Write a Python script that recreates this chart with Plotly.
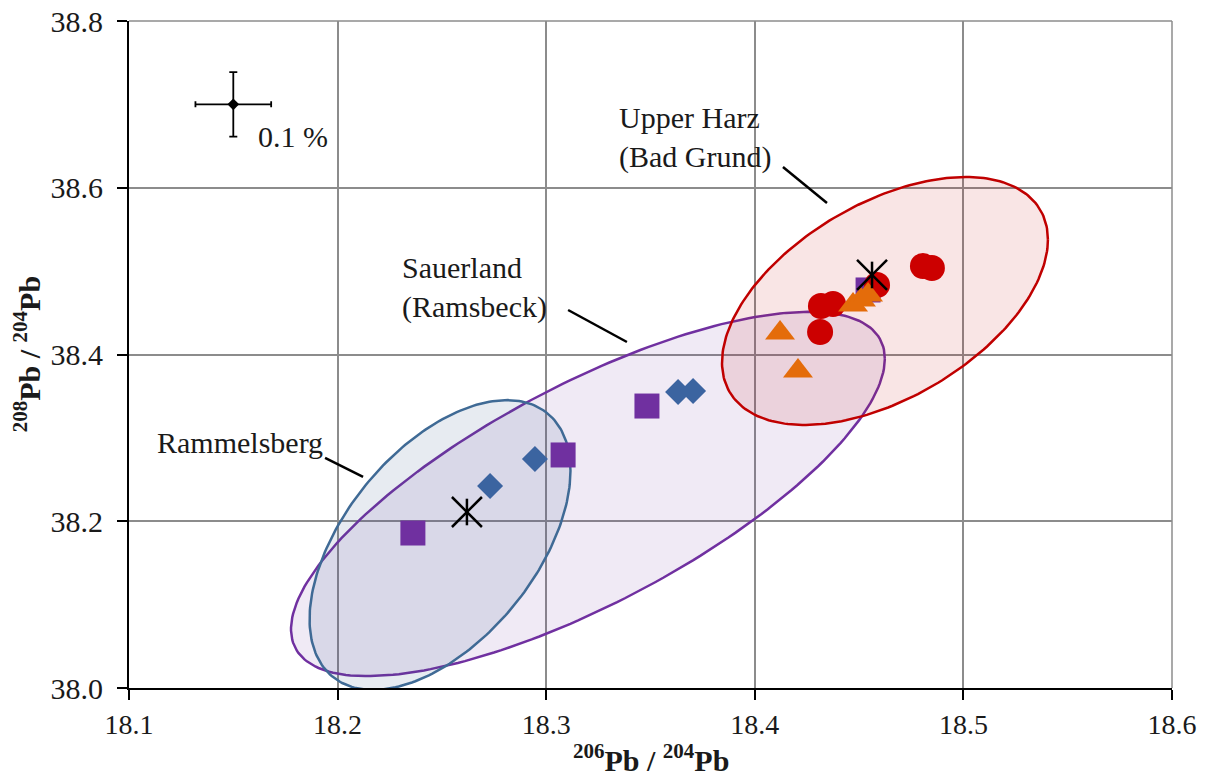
import numpy as np
import plotly.graph_objects as go

# ---- sample data: 206Pb/204Pb (x) vs 208Pb/204Pb (y) ----
sq_x = [18.2361, 18.3081, 18.3483, 18.4543]
sq_y = [38.1859, 38.2795, 38.3382, 38.4774]

dia_x = [18.2731, 18.2946, 18.3632, 18.3704]
dia_y = [38.2423, 38.2747, 38.3550, 38.3562]

circ_x = [18.4317, 18.4375, 18.4313, 18.4586, 18.4806, 18.4849]
circ_y = [38.4582, 38.4606, 38.4270, 38.4834, 38.5061, 38.5037]

tri_x = [18.4121, 18.4207, 18.4471, 18.4509, 18.4543]
tri_y = [38.4258, 38.3802, 38.4594, 38.4654, 38.4714]

star_x = [18.2620, 18.4562]
star_y = [38.2111, 38.4954]

# reference point for the 0.1 % analytical uncertainty
err_x = [18.15]
err_y = [38.70]
err_rel = 0.001

# ore-field ellipses: centre, half-extent in x and y, correlation
ell_names = ["Sauerland (Ramsbeck)", "Rammelsberg", "Upper Harz (Bad Grund)"]
ell_cx = [18.3200, 18.2491, 18.4624]
ell_cy = [38.2327, 38.1715, 38.4642]
ell_hx = [0.14234, 0.06254, 0.07812]
ell_hy = [0.21847, 0.17380, 0.14870]
ell_rho = [0.7423, 0.5123, 0.4950]
ell_line = ["#7030A0", "#3F6A95", "#C00000"]
ell_fill = ["rgba(112,48,160,0.10)", "rgba(55,90,140,0.12)", "rgba(200,20,20,0.11)"]

x_ticks = [18.1, 18.2, 18.3, 18.4, 18.5, 18.6]
y_ticks = [38.0, 38.2, 38.4, 38.6, 38.8]

x_title = "<b><sup>206</sup>Pb / <sup>204</sup>Pb</b>"
y_title = "<b><sup>208</sup>Pb / <sup>204</sup>Pb</b>"

SERIF = "'Liberation Serif', 'Times New Roman', Times, serif"
TXT = "#1a1a1a"

fig = go.Figure()

t = np.linspace(0, 2 * np.pi, 240)
for name, cx, cy, hx, hy, rho, lc, fc in zip(ell_names, ell_cx, ell_cy, ell_hx, ell_hy,
                                              ell_rho, ell_line, ell_fill):
    ex = cx + hx * np.cos(t)
    ey = cy + hy * (rho * np.cos(t) + np.sqrt(1 - rho ** 2) * np.sin(t))
    fig.add_trace(go.Scatter(x=ex, y=ey, mode="lines", fill="toself", fillcolor=fc,
                             line=dict(color=lc, width=2.5), name=name,
                             hoverinfo="skip", showlegend=False))

fig.add_trace(go.Scatter(x=sq_x, y=sq_y, mode="markers",
                         marker=dict(symbol="square", size=25, color="#7030A0"),
                         showlegend=False))
fig.add_trace(go.Scatter(x=dia_x, y=dia_y, mode="markers",
                         marker=dict(symbol="diamond", size=20, color="#3B64A0"),
                         showlegend=False))
fig.add_trace(go.Scatter(x=circ_x, y=circ_y, mode="markers",
                         marker=dict(symbol="circle", size=26, color="#CC0000"),
                         showlegend=False))
fig.add_trace(go.Scatter(x=tri_x, y=tri_y, mode="markers",
                         marker=dict(symbol="triangle-up", size=26, color="#E46C0A"),
                         showlegend=False))
# six-armed star: a thin cross plus a vertical stroke
fig.add_trace(go.Scatter(x=star_x, y=star_y, mode="markers",
                         marker=dict(symbol="x-thin-open", size=30, color="black",
                                     line=dict(color="black", width=2.5)),
                         showlegend=False))
fig.add_trace(go.Scatter(x=star_x, y=star_y, mode="markers",
                         marker=dict(symbol="line-ns-open", size=19, color="black",
                                     line=dict(color="black", width=2.5)),
                         showlegend=False))

# error cross
fig.add_trace(go.Scatter(
    x=err_x, y=err_y, mode="markers",
    marker=dict(symbol="diamond", size=9, color="black"),
    error_x=dict(type="data", array=[v * err_rel for v in err_x], color="black",
                 thickness=1.8, width=3),
    error_y=dict(type="data", array=[v * err_rel for v in err_y], color="black",
                 thickness=1.8, width=4),
    showlegend=False))

# labels and leader lines
labels = [
    ("Upper Harz<br>(Bad Grund)", 18.334, 38.6597),
    ("Sauerland<br>(Ramsbeck)", 18.2299, 38.4798),
    ("Rammelsberg", 18.1125, 38.2939),
    ("0.1 %", 18.1609, 38.662),
]
for txt, lx, ly in labels:
    fig.add_annotation(x=lx, y=ly, text=txt, showarrow=False, xanchor="left",
                       yanchor="middle", align="left",
                       font=dict(family=SERIF, size=30, color=TXT))

leaders = [
    (18.4135, 38.6249, 18.4346, 38.5817),
    (18.3105, 38.4534, 18.3387, 38.4150),
    (18.1940, 38.2759, 18.2122, 38.2531),
]
for x0, y0, x1, y1 in leaders:
    fig.add_shape(type="line", x0=x0, y0=y0, x1=x1, y1=y1, xref="x", yref="y",
                  line=dict(color="black", width=2.5))

# axis titles
fig.add_annotation(x=0.5, y=-0.105, xref="paper", yref="paper", text=x_title,
                   showarrow=False, xanchor="center", yanchor="middle",
                   font=dict(family=SERIF, size=30, color=TXT))
fig.add_annotation(x=-0.098, y=0.5, xref="paper", yref="paper", text=y_title,
                   showarrow=False, xanchor="center", yanchor="middle", textangle=-90,
                   font=dict(family=SERIF, size=30, color=TXT))

# grey frame on the top and right edges
fig.add_shape(type="line", xref="paper", yref="paper", x0=0, x1=1, y0=1, y1=1,
              line=dict(color="#8c8c8c", width=1.5))
fig.add_shape(type="line", xref="paper", yref="paper", x0=1, x1=1, y0=0, y1=1,
              line=dict(color="#8c8c8c", width=1.5))

fig.update_layout(
    width=1207, height=779,
    margin=dict(l=129, r=35, t=21, b=91, autoexpand=False),
    paper_bgcolor="white", plot_bgcolor="white",
    font=dict(family=SERIF, color=TXT),
)
fig.update_xaxes(
    range=[18.1, 18.6], tickvals=x_ticks, ticktext=[f"{v:.1f}" for v in x_ticks],
    showgrid=True, gridcolor="#8c8c8c", gridwidth=1.5,
    showline=True, linecolor="black", linewidth=2,
    ticks="outside", ticklen=10, tickwidth=1.5, tickcolor="black",
    tickfont=dict(family=SERIF, size=28, color=TXT),
    zeroline=False, automargin=False,
)
fig.update_yaxes(
    range=[38.0, 38.8], tickvals=y_ticks, ticktext=[f"{v:.1f}" for v in y_ticks],
    showgrid=True, gridcolor="#8c8c8c", gridwidth=1.5,
    showline=True, linecolor="black", linewidth=2,
    ticks="outside", ticklen=10, tickwidth=1.5, tickcolor="black",
    ticklabelstandoff=8,
    tickfont=dict(family=SERIF, size=30, color=TXT),
    zeroline=False, automargin=False,
)

fig.write_html("out.html")
